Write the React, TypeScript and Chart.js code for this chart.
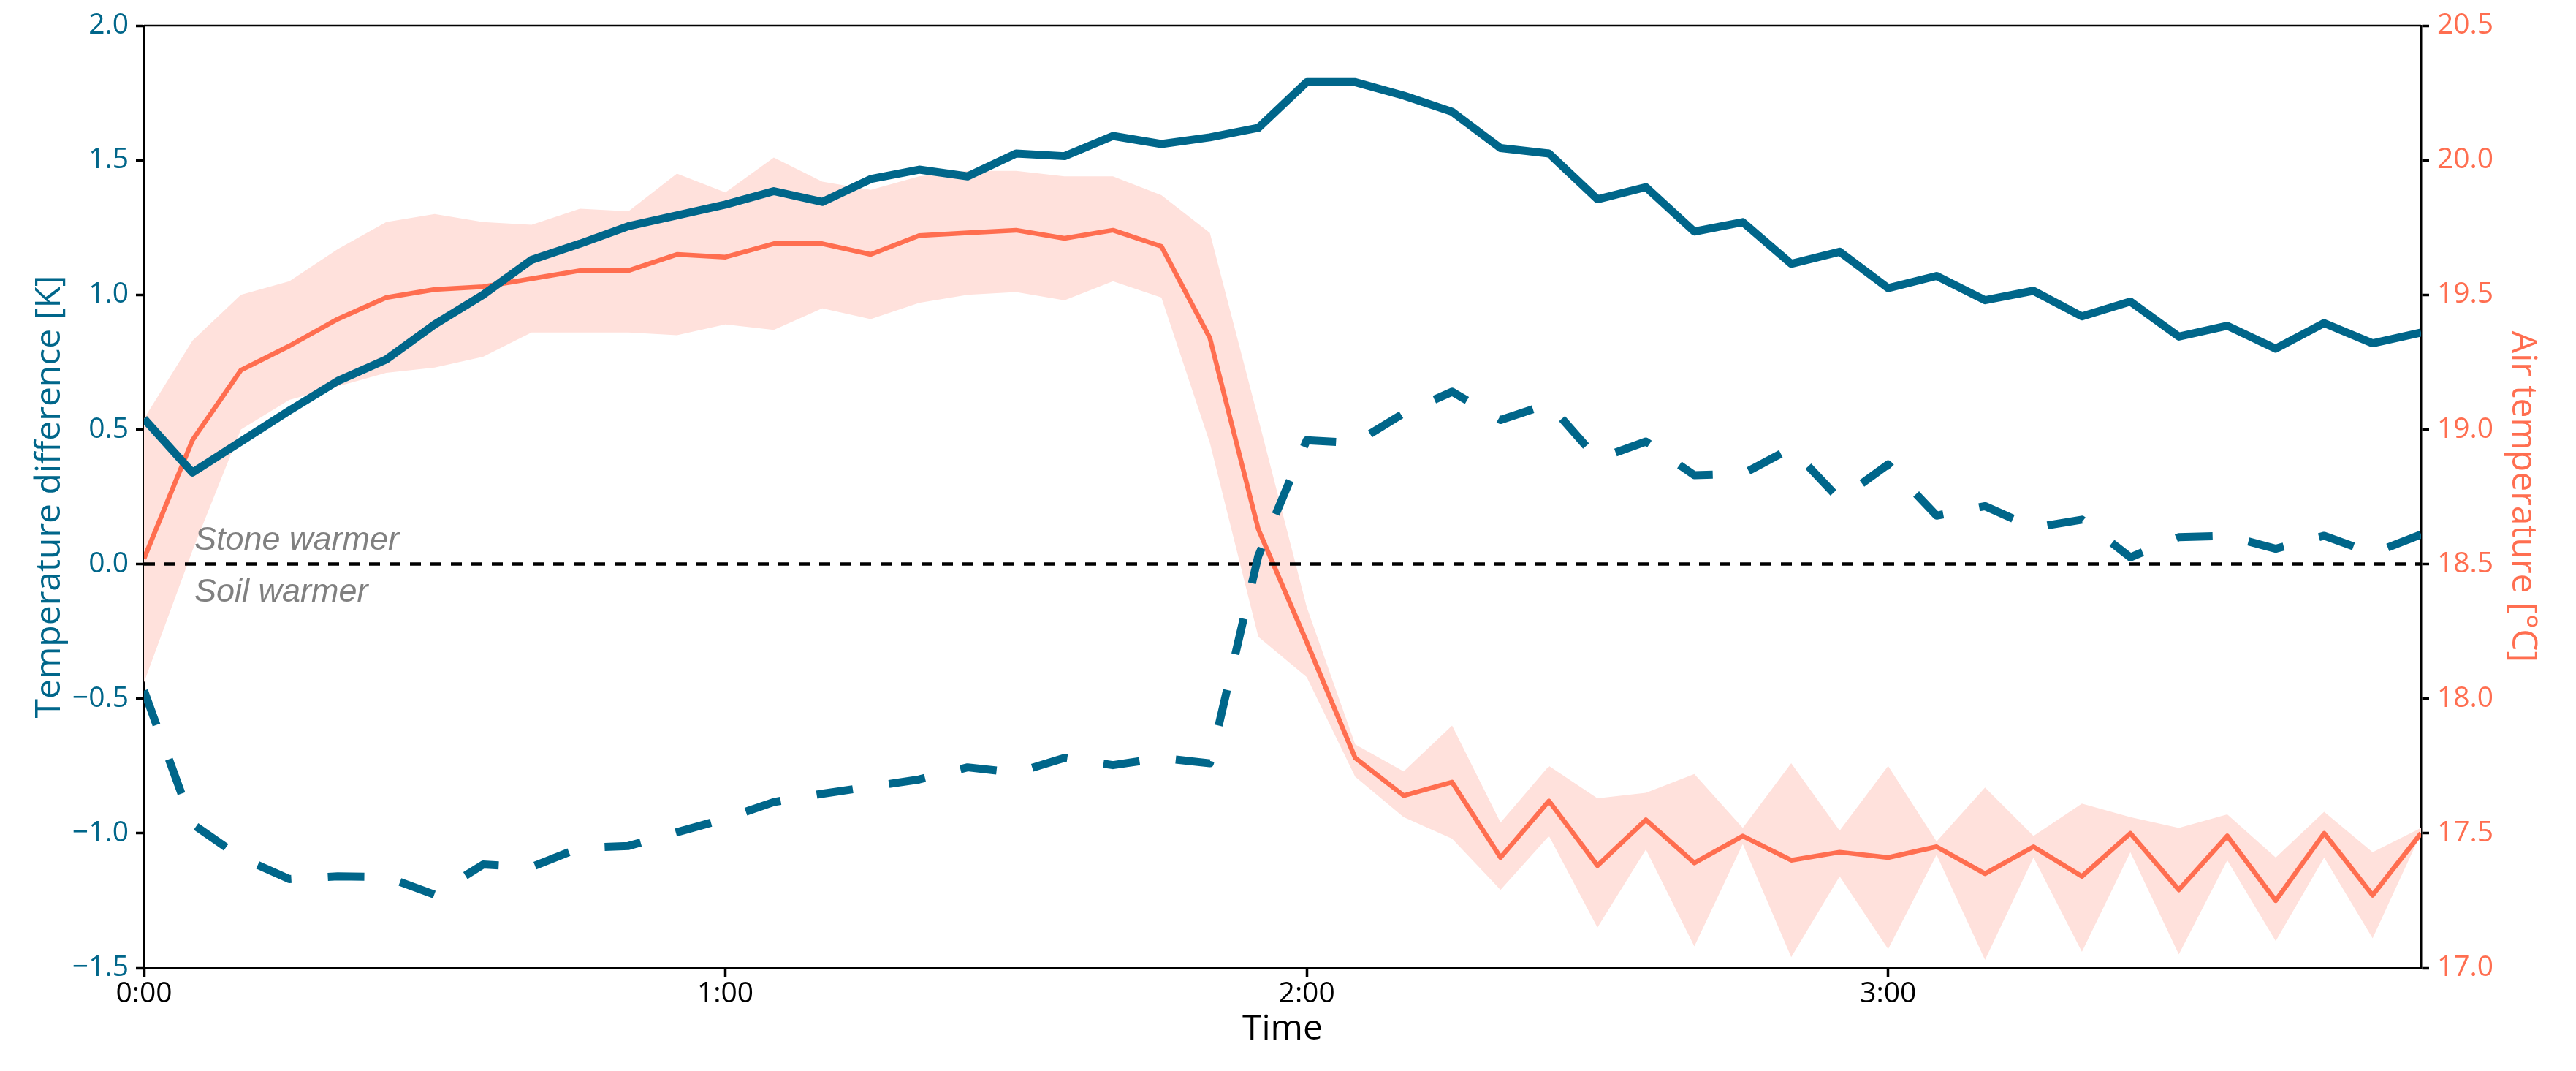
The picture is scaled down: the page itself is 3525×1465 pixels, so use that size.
import React, { useEffect, useRef } from 'react';
import { Chart, registerables } from 'chart.js';

Chart.register(...registerables);

// ---------- data ----------
const minutes = [
  0, 5, 10, 15, 20, 25, 30, 35, 40, 45, 50, 55,
  60, 65, 70, 75, 80, 85, 90, 95, 100, 105, 110, 115,
  120, 125, 130, 135, 140, 145, 150, 155, 160, 165, 170, 175,
  180, 185, 190, 195, 200, 205, 210, 215, 220, 225, 230, 235,
];

// temperature difference, solid line [K]
const diffSolid = [
  0.54, 0.34, 0.455, 0.57, 0.68, 0.76, 0.89, 1.0, 1.13, 1.19, 1.255, 1.295,
  1.335, 1.385, 1.345, 1.43, 1.465, 1.44, 1.525, 1.515, 1.59, 1.56, 1.585, 1.62,
  1.79, 1.79, 1.74, 1.68, 1.545, 1.525, 1.355, 1.4, 1.235, 1.27, 1.115, 1.16,
  1.025, 1.07, 0.98, 1.015, 0.92, 0.975, 0.845, 0.885, 0.8, 0.895, 0.82, 0.86,
];

// temperature difference, dashed line [K]
const diffDashed = [
  -0.47, -0.965, -1.09, -1.17, -1.16, -1.162, -1.228, -1.116, -1.125, -1.054, -1.047, -0.996,
  -0.946, -0.884, -0.853, -0.827, -0.8, -0.755, -0.775, -0.72, -0.747, -0.72, -0.74, 0.03,
  0.46, 0.45, 0.56, 0.64, 0.535, 0.595, 0.39, 0.455, 0.33, 0.335, 0.43, 0.24,
  0.37, 0.18, 0.215, 0.135, 0.165, 0.025, 0.1, 0.105, 0.057, 0.105, 0.04, 0.11,
];

// air temperature mean [°C]
const airMean = [
  18.52, 18.96, 19.22, 19.31, 19.41, 19.49, 19.52, 19.53, 19.56, 19.59, 19.59, 19.65,
  19.64, 19.69, 19.69, 19.65, 19.72, 19.73, 19.74, 19.71, 19.74, 19.68, 19.34, 18.63,
  18.21, 17.78, 17.64, 17.69, 17.41, 17.62, 17.38, 17.55, 17.39, 17.49, 17.4, 17.43,
  17.41, 17.45, 17.35, 17.45, 17.34, 17.5, 17.29, 17.49, 17.25, 17.5, 17.27, 17.5,
];

// air temperature band upper [°C]
const airUpper = [
  19.04, 19.33, 19.5, 19.55, 19.67, 19.77, 19.8, 19.77, 19.76, 19.82, 19.81, 19.95,
  19.88, 20.01, 19.92, 19.89, 19.94, 19.96, 19.96, 19.94, 19.94, 19.87, 19.73, 19.04,
  18.34, 17.83, 17.73, 17.9, 17.54, 17.75, 17.63, 17.65, 17.72, 17.52, 17.76, 17.51,
  17.75, 17.47, 17.67, 17.49, 17.61, 17.56, 17.52, 17.57, 17.41, 17.58, 17.43, 17.52,
];

// air temperature band lower [°C]
const airLower = [
  18.06, 18.55, 19.0, 19.11, 19.16, 19.21, 19.23, 19.27, 19.36, 19.36, 19.36, 19.35,
  19.39, 19.37, 19.45, 19.41, 19.47, 19.5, 19.51, 19.48, 19.55, 19.49, 18.95, 18.23,
  18.08, 17.71, 17.56, 17.48, 17.29, 17.49, 17.15, 17.44, 17.08, 17.46, 17.04, 17.34,
  17.07, 17.42, 17.03, 17.41, 17.06, 17.43, 17.05, 17.4, 17.1, 17.41, 17.11, 17.5,
];

const zeroLineX = [0, 235];
const zeroLineY = [0, 0];

const xTickMinutes = [0, 60, 120, 180];
const leftTicks = [-1.5, -1.0, -0.5, 0.0, 0.5, 1.0, 1.5, 2.0];
const rightTicks = [17.0, 17.5, 18.0, 18.5, 19.0, 19.5, 20.0, 20.5];

const annotationTexts = ['Stone warmer', 'Soil warmer'];

// ---------- styles ----------
const W = 3525;
const H = 1465;
const BLUE = '#00668a';
const ORANGE = '#ff6e50';
const BAND = '#ffe1dc';
const GREY = '#808080';
const FONT = '"Open Sans", "DejaVu Sans", sans-serif';

const ANNOT_X = 5.2; // minutes
const ANNOT_Y = [0.052, -0.139]; // baseline in K

const pts = (xs: number[], ys: number[]) => xs.map((x, i) => ({ x, y: ys[i] }));

const fmtNum = (v: number) => (v < 0 ? '\u2212' : '') + Math.abs(v).toFixed(1);
const fmtTime = (v: number) => `${Math.floor(v / 60)}:${String(v % 60).padStart(2, '0')}`;

const framePlugin = {
  id: 'frameTop',
  afterDraw(chart: any) {
    const { ctx, chartArea } = chart;
    ctx.save();
    ctx.strokeStyle = '#000';
    ctx.lineWidth = 2.5;
    ctx.beginPath();
    ctx.moveTo(chartArea.left, chartArea.top);
    ctx.lineTo(chartArea.right, chartArea.top);
    ctx.stroke();
    ctx.restore();
  },
};

const annotPlugin = {
  id: 'annot',
  afterDatasetsDraw(chart: any) {
    const { ctx } = chart;
    const xs = chart.scales.x;
    const ys = chart.scales.y;
    ctx.save();
    ctx.font = 'italic 45px "Liberation Sans", Arial, sans-serif';
    ctx.fillStyle = GREY;
    ctx.textAlign = 'left';
    ctx.textBaseline = 'alphabetic';
    annotationTexts.forEach((t, i) => {
      ctx.fillText(t, xs.getPixelForValue(ANNOT_X), ys.getPixelForValue(ANNOT_Y[i]));
    });
    ctx.restore();
  },
};

export default function App() {
  const ref = useRef<HTMLCanvasElement>(null);

  useEffect(() => {
    if (!ref.current) return;
    const tickFont = { family: FONT, size: 39 };
    const titleFont = { family: FONT, size: 48 };
    const gridOpts = {
      display: true,
      drawOnChartArea: false,
      drawTicks: true,
      tickLength: 11,
      tickWidth: 3.5,
      tickColor: '#000',
      color: '#000',
    };
    const chart = new Chart(ref.current, {
      type: 'line',
      data: {
        datasets: [
          {
            label: 'diffDashed',
            data: pts(minutes, diffDashed),
            yAxisID: 'y',
            borderColor: BLUE,
            borderWidth: 11,
            borderDash: [50, 50],
            borderCapStyle: 'butt',
            borderJoinStyle: 'round',
            pointRadius: 0,
            fill: false,
            order: 0,
          },
          {
            label: 'diffSolid',
            data: pts(minutes, diffSolid),
            yAxisID: 'y',
            borderColor: BLUE,
            borderWidth: 11,
            borderJoinStyle: 'round',
            borderCapStyle: 'butt',
            pointRadius: 0,
            fill: false,
            order: 1,
          },
          {
            label: 'zero',
            data: pts(zeroLineX, zeroLineY),
            yAxisID: 'y',
            borderColor: '#000',
            borderWidth: 4.5,
            borderDash: [15, 13],
            pointRadius: 0,
            fill: false,
            order: 2,
          },
          {
            label: 'airMean',
            data: pts(minutes, airMean),
            yAxisID: 'y2',
            borderColor: ORANGE,
            borderWidth: 6.5,
            borderJoinStyle: 'round',
            pointRadius: 0,
            fill: false,
            order: 3,
          },
          {
            label: 'airUpper',
            data: pts(minutes, airUpper),
            yAxisID: 'y2',
            borderColor: 'rgba(0,0,0,0)',
            borderWidth: 0,
            backgroundColor: BAND,
            pointRadius: 0,
            fill: '+1',
            order: 4,
          },
          {
            label: 'airLower',
            data: pts(minutes, airLower),
            yAxisID: 'y2',
            borderColor: 'rgba(0,0,0,0)',
            borderWidth: 0,
            pointRadius: 0,
            fill: false,
            order: 5,
          },
        ],
      },
      options: {
        responsive: false,
        devicePixelRatio: 1,
        animation: false,
        events: [],
        layout: { padding: { top: 35, left: 0, right: 0, bottom: 0 } },
        plugins: {
          legend: { display: false },
          tooltip: { enabled: false },
          filler: { drawTime: 'beforeDatasetsDraw' },
        },
        scales: {
          x: {
            type: 'linear',
            position: 'bottom',
            min: 0,
            max: 235,
            afterBuildTicks: (s: any) => {
              s.ticks = xTickMinutes.map((v) => ({ value: v }));
            },
            afterFit: (s: any) => {
              s.height = H - 1324;
            },
            ticks: {
              callback: (v: any) => fmtTime(Number(v)),
              color: '#000',
              font: tickFont,
              padding: 0,
              maxRotation: 0,
              autoSkip: false,
            },
            grid: { ...gridOpts, tickLength: 12 },
            border: { display: true, color: '#000', width: 2.5 },
            title: {
              display: true,
              text: 'Time',
              color: '#000',
              font: titleFont,
              padding: { top: 0, bottom: 28 },
            },
          },
          y: {
            type: 'linear',
            position: 'left',
            min: -1.5,
            max: 2.0,
            afterBuildTicks: (s: any) => {
              s.ticks = leftTicks.map((v) => ({ value: v }));
            },
            afterFit: (s: any) => {
              s.width = 197;
            },
            ticks: {
              callback: (v: any) => fmtNum(Number(v)),
              color: BLUE,
              font: tickFont,
              padding: 10,
            },
            grid: gridOpts,
            border: { display: true, color: '#000', width: 2.5 },
            title: {
              display: true,
              text: 'Temperature difference [K]',
              color: BLUE,
              font: titleFont,
              padding: { top: 40, bottom: 0 },
            },
          },
          y2: {
            type: 'linear',
            position: 'right',
            min: 17.0,
            max: 20.5,
            afterBuildTicks: (s: any) => {
              s.ticks = rightTicks.map((v) => ({ value: v }));
            },
            afterFit: (s: any) => {
              s.width = W - 3313;
            },
            ticks: {
              callback: (v: any) => fmtNum(Number(v)),
              color: ORANGE,
              font: tickFont,
              padding: 11,
            },
            grid: gridOpts,
            border: { display: true, color: '#000', width: 2.5 },
            title: {
              display: true,
              text: 'Air temperature [°C]',
              color: ORANGE,
              font: titleFont,
              padding: { top: 45, bottom: 0 },
            },
          },
        },
      },
      plugins: [framePlugin, annotPlugin],
    } as any);
    return () => chart.destroy();
  }, []);

  return (
    <div style={{ position: 'fixed', left: 0, top: 0, width: W, height: H, background: '#fff' }}>
      <canvas ref={ref} width={W} height={H} style={{ width: W, height: H, display: 'block' }} />
    </div>
  );
}
